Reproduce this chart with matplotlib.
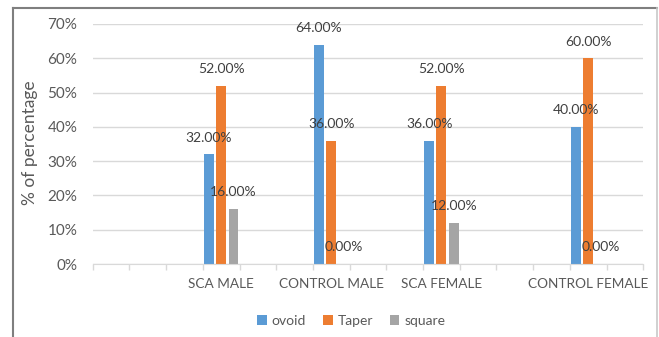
import numpy as np
import matplotlib.pyplot as plt
from matplotlib.lines import Line2D

plt.rcParams['font.family'] = ['Lato', 'DejaVu Sans']

# 15 category slots, only four of them hold data
categories = ['', '', '', 'SCA MALE', '', '', 'CONTROL MALE', '', '',
              'SCA FEMALE', '', '', '', 'CONTROL FEMALE', '']
nan = np.nan
ovoid = [nan, nan, nan, 32, nan, nan, 64, nan, nan, 36, nan, nan, nan, 40, nan]
taper = [nan, nan, nan, 52, nan, nan, 36, nan, nan, 52, nan, nan, nan, 60, nan]
square = [nan, nan, nan, 16, nan, nan, 0, nan, nan, 12, nan, nan, nan, 0, nan]

series = [('ovoid', ovoid, '#5B9BD5'),
          ('Taper', taper, '#ED7D31'),
          ('square', square, '#A5A5A5')]

text_col = '#595959'

fig = plt.figure(figsize=(6.59, 3.37), dpi=100)
ax = fig.add_axes([0.1407, 0.2166, 0.8355, 0.7122])

x = np.arange(len(categories))
width = 0.27
step = 0.335

for i, (name, vals, col) in enumerate(series):
    vals = np.array(vals, dtype=float)
    pos = x + (i - 1) * step
    ax.bar(pos, vals, width=width, color=col, label=name, zorder=2)
    for px, v in zip(pos, vals):
        if np.isnan(v):
            continue
        ax.annotate(f'{v:.2f}%', xy=(px, v), xytext=(0, 12),
                    textcoords='offset points', ha='center', va='center',
                    fontsize=10, color='#404040', zorder=5)

ax.set_xlim(-0.5, len(categories) - 0.5)
ax.set_ylim(0, 70)
ax.set_yticks(np.arange(0, 71, 10))
ax.set_yticklabels([f'{t}%' for t in range(0, 71, 10)])
ax.yaxis.grid(True, color='#D9D9D9', linewidth=1, zorder=0)
ax.set_axisbelow(True)

ax.set_xticks(x)
ax.set_xticklabels(categories)
ax.set_xticks(np.arange(-0.5, len(categories), 1), minor=True)
ax.tick_params(axis='x', which='major', length=0, pad=10,
               labelsize=9.8, labelcolor=text_col)
ax.tick_params(axis='x', which='minor', length=4, color='#D9D9D9', width=1)
ax.tick_params(axis='y', length=0, pad=11, labelsize=11, labelcolor=text_col)

for side in ['top', 'right', 'left']:
    ax.spines[side].set_visible(False)
ax.spines['bottom'].set_color('#D9D9D9')

fig.text(30 / 659, 1 - 143 / 337, '% of percentage', rotation=90,
         ha='center', va='center', fontsize=12.5, color=text_col)

ax.legend(loc='center', bbox_to_anchor=(0.533, 0.047),
          bbox_transform=fig.transFigure, ncol=3, frameon=False,
          handlelength=0.7, handleheight=0.7, handletextpad=0.35,
          columnspacing=1.2, fontsize=10, labelcolor=text_col)

# chart border
fig.add_artist(Line2D([13 / 659, 13 / 659], [0, 1 - 7.5 / 337],
                      color='#7F7F7F', linewidth=1.5))
fig.add_artist(Line2D([13 / 659, 656.7 / 659], [1 - 7.5 / 337, 1 - 7.5 / 337],
                      color='#7F7F7F', linewidth=1.5))
fig.add_artist(Line2D([656.7 / 659, 656.7 / 659], [0, 1 - 7.5 / 337],
                      color='#C8C8C8', linewidth=1.2))

fig.savefig('out.png', dpi=100)
